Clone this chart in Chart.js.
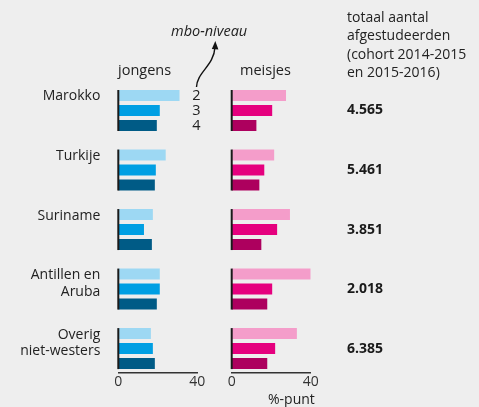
<!DOCTYPE html>
<html>
<head>
<meta charset="utf-8">
<script src="https://cdn.jsdelivr.net/npm/chart.js@4/dist/chart.umd.min.js"></script>
<style>
body { margin: 0; background: #eeeeee; }
#wrap { position: relative; width: 479px; height: 407px; font-family: "Open Sans", sans-serif; color: #222; font-size: 14px; }
canvas { position: absolute; top: 0; }
.t { position: absolute; white-space: nowrap; line-height: 18px; }
</style>
</head>
<body>
<div id="wrap">
  <canvas id="jongens" width="215" height="407" style="left:0"></canvas>
  <canvas id="meisjes" width="264" height="407" style="left:215px"></canvas>
  <div class="t" style="left:118px;top:61px;font-size:14.5px">jongens</div>
  <div class="t" style="left:240px;top:61px;font-size:14.5px">meisjes</div>
  <div class="t" style="left:171px;top:22px;font-style:italic;font-size:14.5px">mbo-niveau</div>
  <div class="t" style="left:347px;top:8px;line-height:18.3px">totaal aantal<br>afgestudeerden<br>(cohort 2014-2015<br>en 2015-2016)</div>
  <div class="t" style="left:268px;top:390px">%-punt</div>
  <svg width="479" height="407" style="position:absolute;left:0;top:0;pointer-events:none">
    <path d="M196.5 87 C197 72 214 66 215 47" fill="none" stroke="#111" stroke-width="1.4"/>
    <path d="M211.8 49 L215.3 41 L218.4 49.5 Z" fill="#111"/>
  </svg>
</div>
<script>
const categories = [['Marokko'], ['Turkije'], ['Suriname'], ['Antillen en', 'Aruba'], ['Overig', 'niet-westers']];
const levels = ['2', '3', '4'];
const totals = ['4.565', '5.461', '3.851', '2.018', '6.385'];

// verschil in %-punt per mbo-niveau (2, 3, 4)
const jongens2 = [31, 24, 17.5, 21, 16.5];
const jongens3 = [21, 19, 13, 21, 17.5];
const jongens4 = [19.5, 18.5, 17, 19.5, 18.5];
const meisjes2 = [27.5, 21.5, 29.5, 40, 33];
const meisjes3 = [20.5, 16.5, 23, 20.5, 22];
const meisjes4 = [12.5, 14, 15, 18, 18];

const blues = ['#9dd8f3', '#009fe3', '#005b86'];
const pinks = ['#f49dca', '#e5007e', '#ad005e'];

const txt = '#222';
const font = '"Open Sans", sans-serif';

// zwart streepje bij 0 per groep + niveau-cijfers
const groupLine = {
  id: 'groupLine',
  afterDatasetsDraw(chart, args, opts) {
    const ctx = chart.ctx;
    const x0 = chart.scales.x.getPixelForValue(0);
    const first = chart.getDatasetMeta(0).data;
    const last = chart.getDatasetMeta(chart.data.datasets.length - 1).data;
    ctx.save();
    ctx.strokeStyle = '#1a1a1a';
    ctx.lineWidth = 2;
    first.forEach((bar, i) => {
      ctx.beginPath();
      ctx.moveTo(x0, bar.y - bar.height / 2);
      ctx.lineTo(x0, last[i].y + last[i].height / 2);
      ctx.stroke();
    });
    if (opts.levels) {
      ctx.fillStyle = txt;
      ctx.font = '14.5px ' + font;
      ctx.textAlign = 'center';
      ctx.textBaseline = 'middle';
      const xl = chart.scales.x.getPixelForValue(40) - 1;
      chart.data.datasets.forEach((ds, d) => {
        const bar = chart.getDatasetMeta(d).data[0];
        ctx.fillText(ds.label, xl, bar.y);
      });
    }
    ctx.restore();
  }
};

function makeSets(series, colors) {
  return series.map((vals, d) => ({
    label: levels[d],
    data: vals.map((v, i) => ({ x: v, y: i })),
    backgroundColor: colors[d],
    categoryPercentage: 0.756,
    barPercentage: 0.733
  }));
}

const indexScale = {
  type: 'linear',
  reverse: true,
  offset: false,
  bounds: 'data',
  min: -0.5,
  max: 4.41,
  afterBuildTicks(s) { s.ticks = categories.map((c, i) => ({ value: i })); },
  grid: { display: false, drawTicks: false },
  border: { display: false }
};

const xScale = {
  type: 'linear',
  min: 0,
  max: 40,
  ticks: { stepSize: 40, color: '#333', font: { size: 14, family: font }, padding: 1 },
  grid: { display: false, drawTicks: false },
  border: { color: '#333', width: 1.5 },
  afterFit(s) { s.height = 34; }
};

new Chart(document.getElementById('jongens'), {
  type: 'bar',
  data: { datasets: makeSets([jongens2, jongens3, jongens4], blues) },
  options: {
    indexAxis: 'y',
    responsive: false,
    animation: false,
    layout: { padding: { top: 80.75, right: 17.7, left: 0, bottom: 0 } },
    plugins: { legend: { display: false }, tooltip: { enabled: false }, groupLine: { levels: true } },
    scales: {
      x: xScale,
      y: Object.assign({}, indexScale, {
        ticks: {
          autoSkip: false, padding: 18,
          labelOffset: -5.6, color: txt, font: { size: 14, family: font, lineHeight: 1.2 },
          callback: v => categories[v] ? (categories[v].length > 1 ? categories[v] : [categories[v][0], '']) : ''
        },
        afterFit(s) { s.width = 118.3; s.paddingTop = 0; s.paddingBottom = 0; }
      })
    }
  },
  plugins: [groupLine]
});

new Chart(document.getElementById('meisjes'), {
  type: 'bar',
  data: { datasets: makeSets([meisjes2, meisjes3, meisjes4], pinks) },
  options: {
    indexAxis: 'y',
    responsive: false,
    animation: false,
    layout: { padding: { top: 80.75, right: 0, left: 16.7, bottom: 0 } },
    plugins: { legend: { display: false }, tooltip: { enabled: false }, groupLine: { levels: false } },
    scales: {
      x: xScale,
      y: Object.assign({}, indexScale, { display: false }),
      totaal: Object.assign({}, indexScale, {
        position: 'right',
        ticks: {
          autoSkip: false, padding: 36.3,
          color: '#1a1a1a', font: { size: 14, family: font, weight: 'bold' },
          callback: v => totals[v] || ''
        },
        afterFit(s) { s.width = 168.3; s.paddingTop = 0; s.paddingBottom = 0; }
      })
    }
  },
  plugins: [groupLine]
});
</script>
</body>
</html>
